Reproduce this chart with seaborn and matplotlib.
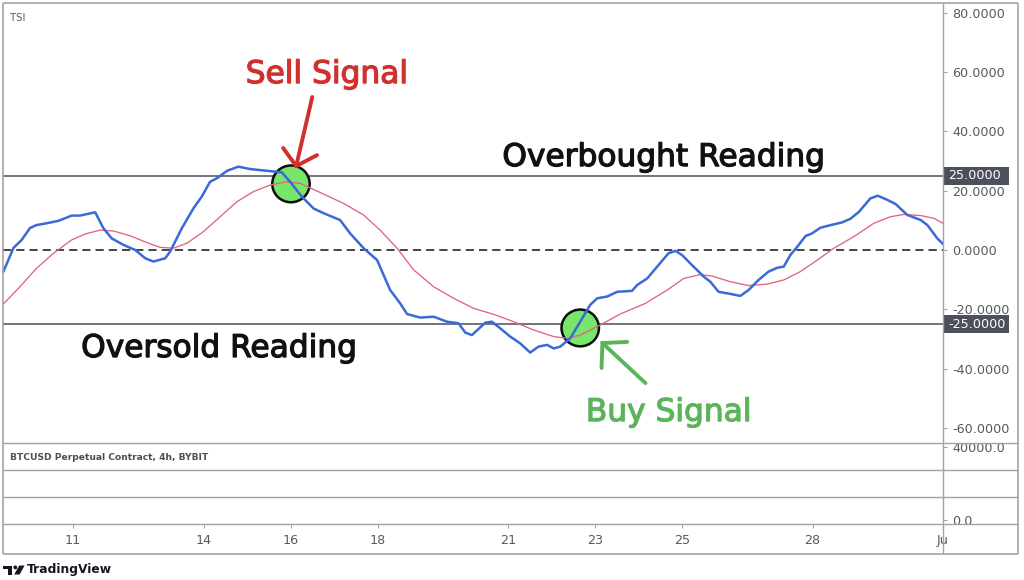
import matplotlib
matplotlib.use("Agg")
import matplotlib.pyplot as plt
import seaborn as sns
import numpy as np
import pandas as pd
from matplotlib.patches import Ellipse, Rectangle, Polygon, Circle
from matplotlib.lines import Line2D
from matplotlib.transforms import Affine2D, blended_transform_factory
import matplotlib.patheffects as pe

# ---------------- data ----------------
tsi_days = [9.40, 9.63, 9.82, 10.01, 10.16, 10.39, 10.66, 10.97, 11.16, 11.51,
            11.70, 11.89, 12.16, 12.43, 12.66, 12.85, 13.12, 13.23, 13.50, 13.77,
            13.96, 14.15, 14.31, 14.54, 14.80, 15.07, 15.46, 15.80, 15.99, 16.26,
            16.53, 16.76, 17.14, 17.37, 17.68, 17.99, 18.29, 18.52, 18.68, 18.98,
            19.29, 19.60, 19.86, 20.02, 20.17, 20.48, 20.63, 20.82, 21.05, 21.28,
            21.51, 21.70, 21.90, 22.05, 22.20, 22.43, 22.66, 22.89, 23.05, 23.28,
            23.51, 23.85, 23.97, 24.20, 24.43, 24.69, 24.85, 25.00, 25.23, 25.50,
            25.65, 25.84, 26.11, 26.34, 26.53, 26.76, 26.99, 27.19, 27.34, 27.49,
            27.65, 27.84, 27.99, 28.18, 28.42, 28.68, 28.87, 29.07, 29.33, 29.50,
            29.72, 29.91, 30.18, 30.49, 30.64, 30.87, 31.00]
tsi_values = [-7.3, 0.7, 3.4, 7.4, 8.4, 9.0, 9.8, 11.6, 11.6, 12.7,
              7.3, 3.9, 1.7, 0.0, -2.8, -3.9, -2.8, -0.6, 7.3, 14.1,
              18.0, 23.0, 24.2, 26.7, 28.1, 27.3, 26.7, 26.2, 23.0, 18.0,
              14.0, 12.4, 10.1, 5.6, 0.6, -3.4, -13.5, -18.0, -21.6, -22.8,
              -22.5, -24.2, -24.7, -27.9, -28.7, -24.5, -24.2, -26.4, -29.2, -31.5,
              -34.6, -32.6, -32.0, -33.2, -32.6, -29.8, -24.2, -18.5, -16.3, -15.7,
              -14.1, -13.8, -11.8, -9.6, -5.6, -1.1, -0.3, -1.7, -5.1, -9.0,
              -10.7, -14.1, -14.8, -15.5, -13.5, -10.1, -7.3, -6.0, -5.6, -1.7,
              1.1, 4.7, 5.6, 7.5, 8.4, 9.3, 10.5, 12.9, 17.4, 18.3,
              16.9, 15.5, 11.8, 10.1, 8.4, 3.9, 2.0]

signal_days = [9.40, 9.78, 10.16, 10.55, 10.97, 11.28, 11.62, 11.93, 12.31, 12.70,
               13.00, 13.31, 13.62, 14.00, 14.38, 14.77, 15.15, 15.53, 15.92, 16.22,
               16.68, 17.22, 17.68, 18.06, 18.45, 18.83, 19.29, 19.75, 20.21, 20.67,
               21.13, 21.59, 22.05, 22.36, 22.66, 23.12, 23.58, 24.16, 24.66, 25.04,
               25.42, 25.69, 26.11, 26.53, 26.96, 27.34, 27.72, 28.11, 28.49, 28.95,
               29.41, 29.79, 30.10, 30.49, 30.79, 31.00]
signal_values = [-18.2, -12.4, -6.2, -1.1, 3.4, 5.4, 6.7, 6.4, 4.8, 2.5,
                 0.9, 0.6, 2.3, 6.2, 11.2, 16.3, 19.7, 21.9, 23.0, 22.5,
                 19.4, 15.7, 11.8, 6.7, 0.6, -6.7, -12.4, -16.3, -19.7, -21.7,
                 -24.2, -27.0, -29.2, -29.8, -28.7, -25.3, -21.6, -18.0, -13.5, -9.6,
                 -8.3, -8.8, -10.7, -12.0, -11.5, -10.1, -7.3, -3.4, 0.6, 4.5,
                 9.0, 11.2, 12.0, 11.6, 10.7, 9.0]

overbought_level = 25
oversold_level = -25
zero_level = 0
tsi_ticks = [80, 60, 40, 20, 0, -20, -40, -60]
price_ticks = [0, 40000]
price_labels = ["0.0", "40000.0"]
date_ticks = [11, 14, 16, 18, 21, 23, 25, 28, 31]
date_labels = ["11", "14", "16", "18", "21", "23", "25", "28", "Ju"]

sell_signal = (16.01, 22.3)
buy_signal = (22.66, -26.3)

# ---------------- styling ----------------
sns.set_theme(style="white")
plt.rcParams['font.family'] = ['DejaVu Sans']

W, H = 1024, 580
fig = plt.figure(figsize=(W / 100, H / 100), dpi=100)
fig.patch.set_facecolor("white")
pxT = Affine2D().scale(1.0 / W, -1.0 / H).translate(0, 1) + fig.transFigure


def box(x0, y0, x1, y1):
    return [x0 / W, 1 - y1 / H, (x1 - x0) / W, (y1 - y0) / H]


FRAME = "#a3a3a3"
TXT = "#555a60"
BLUE = "#3a6ad8"
PINK = "#e0647f"
RED = "#d0312d"
GREEN = "#5bb45a"

ax = fig.add_axes(box(3, 3, 943, 443))
ax2 = fig.add_axes(box(3, 443, 943, 524))
for a in (ax, ax2):
    a.set_facecolor("white")
    for s in a.spines.values():
        s.set_visible(False)

# ---------------- main TSI pane ----------------
ax.set_xlim(9.39, 31.0)
ax.set_ylim(-65.1, 83.3)

ax.axhline(overbought_level, color="#4a4e56", lw=1.1, zorder=1)
ax.axhline(oversold_level, color="#4a4e56", lw=1.1, zorder=1)
ax.axhline(zero_level, color="#444444", lw=1.4, ls=(0, (4.2, 2.6)), zorder=1)

for c in (sell_signal, buy_signal):
    ax.add_patch(Ellipse(c, width=0.86, height=12.4, facecolor="#78e66a",
                         edgecolor="#0d0d0d", lw=1.8, zorder=2))

sns.lineplot(x=signal_days, y=signal_values, ax=ax, color=PINK, lw=0.95,
             sort=False, zorder=3)
sns.lineplot(x=tsi_days, y=tsi_values, ax=ax, color=BLUE, lw=1.8,
             sort=False, zorder=4)

ax.set_xticks([])
ax.set_xlabel("")
ax.set_ylabel("")
ax.yaxis.tick_right()
ax.set_yticks(tsi_ticks)
ax.set_yticklabels([f"{v:.4f}" for v in tsi_ticks])
ax.tick_params(axis="y", direction="out", length=3, width=0.8, color=FRAME,
               labelsize=9.2, labelcolor=TXT, pad=3.5, right=True, left=False)

# level price labels
bt = blended_transform_factory(ax.transAxes, ax.transData)
for lv in (overbought_level, oversold_level):
    ax.add_patch(Rectangle((1.0, lv - 3.0), 66 / 940, 6.0, transform=bt,
                           facecolor="#4b505b", edgecolor="none", clip_on=False,
                           zorder=6))
    ax.text(1.0 + 5 / 940, lv, f"{lv:.4f}", transform=bt, color="white",
            fontsize=9.2, ha="left", va="center", zorder=7, clip_on=False)

ax.text(0.007, 0.966, "TSI", transform=ax.transAxes, fontsize=7.3,
        color=TXT, ha="left", va="center")


def heavy(color):
    return [pe.withStroke(linewidth=0.9, foreground=color)]


ax.text(16.83, 56.3, "Sell Signal", color=RED, fontsize=22.5, ha="center",
        va="baseline", path_effects=heavy(RED), zorder=8)
ax.text(24.58, 28.3, "Overbought Reading", color="#111111", fontsize=22.5,
        ha="center", va="baseline", path_effects=heavy("#111111"), zorder=8)
ax.text(14.36, -36.1, "Oversold Reading", color="#111111", fontsize=22.5,
        ha="center", va="baseline", path_effects=heavy("#111111"), zorder=8)
ax.text(24.69, -57.7, "Buy Signal", color=GREEN, fontsize=22.5, ha="center",
        va="baseline", path_effects=heavy(GREEN), zorder=8)

# red arrow
red_tip = (16.13, 28.3)
ax.plot([16.50, red_tip[0]], [51.6, red_tip[1]], color=RED, lw=2.8,
        solid_capstyle="round", zorder=8)
ax.plot([15.83, red_tip[0], 16.61], [34.4, red_tip[1], 32.0], color=RED,
        lw=2.8, solid_capstyle="round", solid_joinstyle="miter", zorder=8)
# green arrow
green_tip = (23.17, -31.4)
ax.plot([24.16, green_tip[0]], [-44.9, green_tip[1]], color=GREEN, lw=2.8,
        solid_capstyle="round", zorder=8)
ax.plot([23.74, green_tip[0], 23.15], [-31.0, green_tip[1], -39.8],
        color=GREEN, lw=2.8, solid_capstyle="round", solid_joinstyle="miter",
        zorder=8)

# ---------------- lower price pane ----------------
ax2.set_xlim(9.39, 31.0)
ax2.set_ylim(-2192, 42192)
ax2.yaxis.tick_right()
ax2.set_yticks(price_ticks)
ax2.set_yticklabels(price_labels)
ax2.tick_params(axis="y", direction="out", length=3, width=0.8, color=FRAME,
                labelsize=9.2, labelcolor=TXT, pad=3.5, right=True, left=False)
ax2.set_xticks(date_ticks)
ax2.set_xticklabels(date_labels)
ax2.tick_params(axis="x", direction="out", length=3, width=0.8, color=FRAME,
                labelsize=9.2, labelcolor=TXT, pad=4.5, bottom=True)
ax2.text(0.0075, 0.82, "BTCUSD Perpetual Contract, 4h, BYBIT",
         transform=ax2.transAxes, fontsize=6.6, fontweight="bold",
         color="#4a4e55", ha="left", va="center")

# ---------------- frame lines ----------------
def fline(x0, y0, x1, y1, color=FRAME, lw=1.0):
    fig.add_artist(Line2D([x0, x1], [y0, y1], transform=pxT, color=color,
                          lw=lw, solid_capstyle="butt"))

fline(3, 3, 1018, 3, lw=1.2)
fline(3, 554, 1018, 554, lw=1.2)
fline(3, 3, 3, 554, lw=1.2)
fline(1018, 3, 1018, 554, lw=1.2)
fline(943, 3, 943, 554, lw=1.0)
for yy in (443, 470, 497, 524):
    fline(3, yy, 1018, yy, lw=1.0)

# ---------------- TradingView logo ----------------
LOGO = "#131722"
fig.add_artist(Rectangle((3, 565.5), 9, 3.6, transform=pxT, facecolor=LOGO,
                         edgecolor="none"))
fig.add_artist(Rectangle((8.4, 565.5), 3.6, 9, transform=pxT, facecolor=LOGO,
                         edgecolor="none"))
fig.add_artist(Circle((15.3, 567.4), 1.9, transform=pxT, facecolor=LOGO,
                      edgecolor="none"))
fig.add_artist(Polygon([(19.2, 565.5), (24.6, 565.5), (19.6, 574.5), (14.2, 574.5)],
                       closed=True, transform=pxT, facecolor=LOGO, edgecolor="none"))
fig.text(27 / W, 1 - 570 / H, "TradingView", fontsize=8.8, fontweight="bold",
         color=LOGO, ha="left", va="center")

fig.savefig("out.png", dpi=100, facecolor="white")
